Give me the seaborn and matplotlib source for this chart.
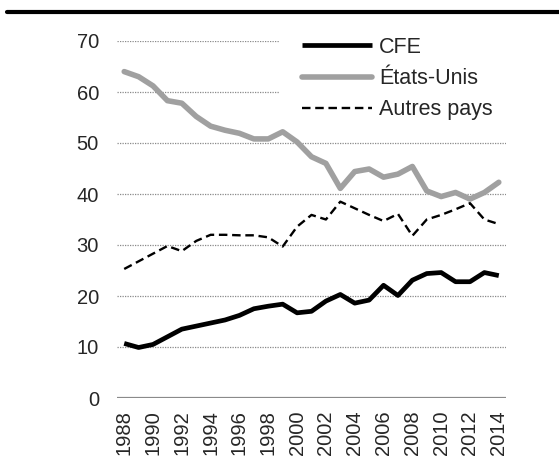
import seaborn as sns
import numpy as np
import pandas as pd
import matplotlib.pyplot as plt
from matplotlib.lines import Line2D
from matplotlib.patches import Rectangle

# parts (%) par origine, 1988-2014
years = list(range(1988, 2015))
cfe = [10.7, 9.9, 10.5, 12.0, 13.5, 14.1, 14.7, 15.3, 16.2, 17.5, 18.0, 18.4,
       16.7, 17.0, 19.0, 20.3, 18.6, 19.2, 22.1, 20.1, 23.1, 24.4, 24.6, 22.8,
       22.8, 24.6, 24.0]
etats_unis = [64.0, 63.0, 61.2, 58.3, 57.8, 55.2, 53.3, 52.5, 51.9, 50.8, 50.8,
              52.2, 50.2, 47.3, 46.0, 41.1, 44.4, 44.9, 43.3, 43.9, 45.4, 40.6,
              39.5, 40.3, 39.0, 40.3, 42.3]
autres = [25.3, 26.8, 28.3, 29.8, 28.8, 30.8, 32.0, 32.0, 31.9, 31.9, 31.5, 29.7,
          33.6, 35.9, 35.0, 38.5, 37.2, 35.9, 34.7, 36.1, 31.8, 35.0, 35.9, 37.0,
          38.2, 35.0, 34.1]
tick_years = list(range(1988, 2015, 2))

sns.set_style('white')
plt.rcParams['font.family'] = ['Liberation Sans', 'DejaVu Sans']

W, H = 559, 461
fig = plt.figure(figsize=(W / 100, H / 100), dpi=100)
ax = fig.add_axes([117 / W, 1 - 398 / H, 389 / W, 357 / H])

df = pd.DataFrame({'annee': years, 'CFE': cfe, 'États-Unis': etats_unis,
                   'Autres pays': autres})

sns.lineplot(data=df, x='annee', y='CFE', ax=ax, color='black', lw=3.4,
             label='CFE', solid_capstyle='butt')
sns.lineplot(data=df, x='annee', y='États-Unis', ax=ax, color='#a0a0a0', lw=4.0,
             label='États-Unis', solid_capstyle='round')
sns.lineplot(data=df, x='annee', y='Autres pays', ax=ax, color='black', lw=1.7,
             label='Autres pays', dashes=(3.6, 2.0))

ax.set_xlim(1987.5, 2014.5)
ax.set_ylim(0, 70)
ax.set_yticks(np.arange(0, 71, 10))
ax.set_xticks(tick_years)
ax.set_xticklabels([str(y) for y in tick_years], rotation=90)
ax.set_xlabel('')
ax.set_ylabel('')

for y in range(10, 71, 10):
    ax.axhline(y, color='#8a8a8a', lw=0.9, ls=(0, (1, 1)), zorder=0)
ax.axhline(0, color='#8a8a8a', lw=1.6, zorder=1)

for s in ax.spines.values():
    s.set_visible(False)
ax.tick_params(axis='y', length=0, pad=13, labelsize=14.5)
ax.tick_params(axis='x', length=0, pad=9, labelsize=14.5)

# white block behind the legend hides the gridlines there
ax.add_patch(Rectangle((280 / W, 1 - 125 / H), 232 / W, 95 / H,
                       transform=fig.transFigure, facecolor='white',
                       edgecolor='none', zorder=1.5, clip_on=False))

leg = ax.legend(loc='upper left', bbox_to_anchor=(302 / W, 1 - 37 / H),
                bbox_transform=fig.transFigure, fontsize=15.5,
                handlelength=3.25, handletextpad=0.33, labelspacing=0.47,
                frameon=False, borderpad=0, borderaxespad=0)
leg.set_zorder(5)

fig.add_artist(Line2D([7 / W, 1], [1 - 12 / H, 1 - 12 / H],
                      color='black', lw=3.0))

fig.savefig('out.png', dpi=100)
